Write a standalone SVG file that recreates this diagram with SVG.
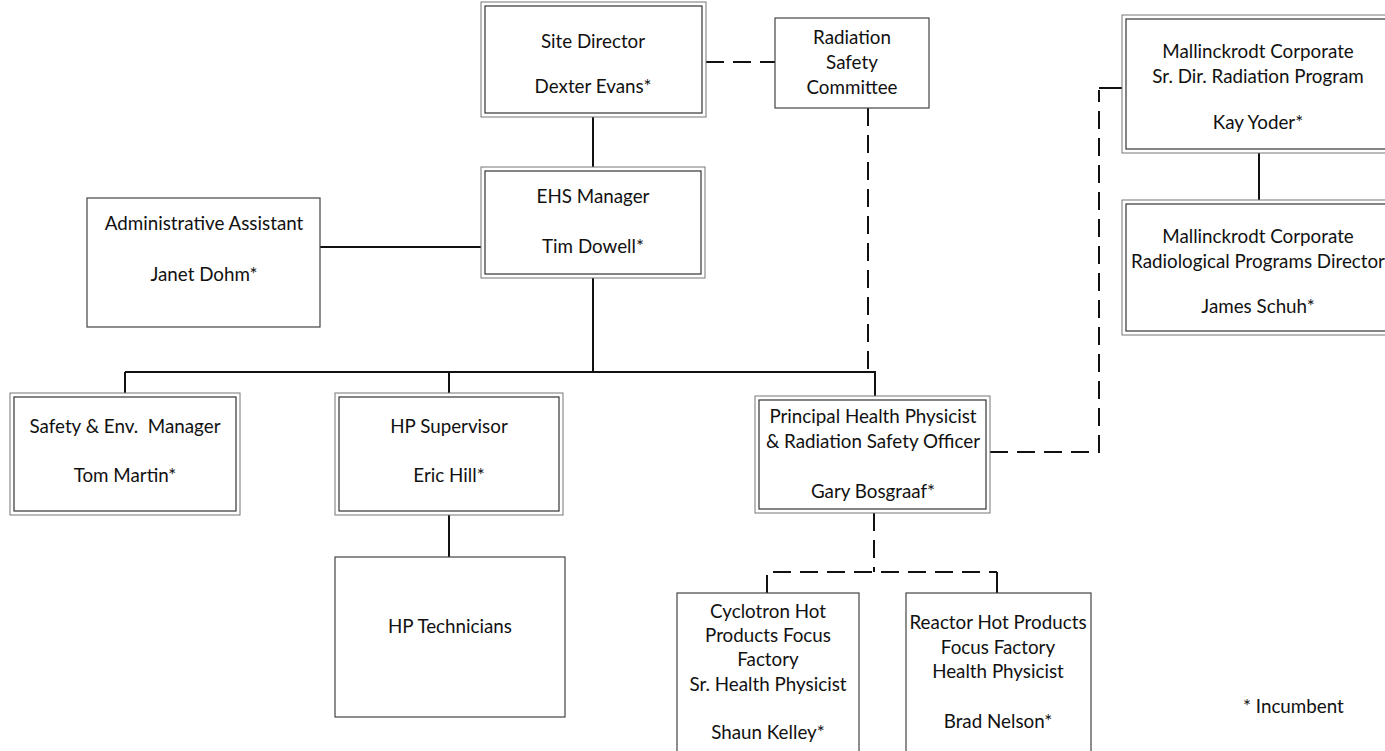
<svg xmlns="http://www.w3.org/2000/svg" width="1385" height="751" viewBox="0 0 1385 751">
<style>
  .o{fill:#fff;stroke:#777;stroke-width:1}
  .i{fill:none;stroke:#333;stroke-width:1.2}
  .s{fill:#fff;stroke:#444;stroke-width:1.2}
  .t{font-family:Lato,"Liberation Sans",sans-serif;font-size:18.8px;fill:#111;text-anchor:middle}
  .c{fill:none;stroke:#111;stroke-width:2}
  .d{fill:none;stroke:#111;stroke-width:2;stroke-dasharray:18 9}
</style>
<rect width="1385" height="751" fill="#fff"/>
<g id="connectors">
  <path class="d" d="M706 62 H775"/>
  <path class="c" d="M593 117 V167"/>
  <path class="d" d="M868 108 V372"/>
  <path class="c" d="M320 247 H481"/>
  <path class="c" d="M593 278 V372 M125 372 H876 M125 372 V393 M449 372 V393 M875 372 V396"/>
  <path class="c" d="M449 515 V557"/>
  <path class="d" d="M990 452 H1099 V90"/>
  <path class="c" d="M1099 88 H1122"/>
  <path class="c" d="M1259 153 V200"/>
  <path class="d" d="M874 513 V572 M767 593 V572 H997"/>
  <path class="c" d="M997 572 V593"/>
</g>
<g id="site-director">
  <rect class="o" x="481" y="2" width="225" height="115"/>
  <rect class="i" x="485" y="6" width="217" height="107"/>
  <text class="t" x="593" y="48">Site Director</text>
  <text class="t" x="593" y="93">Dexter Evans*</text>
</g>
<g id="rsc">
  <rect class="s" x="775" y="18" width="154" height="90"/>
  <text class="t" x="852" y="44">Radiation</text>
  <text class="t" x="852" y="69">Safety</text>
  <text class="t" x="852" y="94">Committee</text>
</g>
<g id="ehs-manager">
  <rect class="o" x="481" y="167" width="224" height="111"/>
  <rect class="i" x="485" y="171" width="216" height="103"/>
  <text class="t" x="593" y="203">EHS Manager</text>
  <text class="t" x="593" y="253">Tim Dowell*</text>
</g>
<g id="admin-assistant">
  <rect class="s" x="87" y="198" width="233" height="129"/>
  <text class="t" x="204" y="230">Administrative Assistant</text>
  <text class="t" x="204" y="281">Janet Dohm*</text>
</g>
<g id="kay-yoder">
  <rect class="o" x="1122" y="15" width="270" height="138"/>
  <rect class="i" x="1126" y="19" width="262" height="130"/>
  <text class="t" x="1258" y="58">Mallinckrodt Corporate</text>
  <text class="t" x="1258" y="83">Sr. Dir. Radiation Program</text>
  <text class="t" x="1258" y="129">Kay Yoder*</text>
</g>
<g id="james-schuh">
  <rect class="o" x="1122" y="200" width="270" height="135"/>
  <rect class="i" x="1126" y="204" width="262" height="127"/>
  <text class="t" x="1258" y="243">Mallinckrodt Corporate</text>
  <text class="t" x="1258" y="268">Radiological Programs Director</text>
  <text class="t" x="1258" y="313">James Schuh*</text>
</g>
<g id="safety-env-manager">
  <rect class="o" x="10" y="393" width="230" height="122"/>
  <rect class="i" x="14" y="397" width="222" height="114"/>
  <text class="t" x="125" y="433" xml:space="preserve">Safety &amp; Env.  Manager</text>
  <text class="t" x="125" y="482">Tom Martin*</text>
</g>
<g id="hp-supervisor">
  <rect class="o" x="335" y="393" width="228" height="122"/>
  <rect class="i" x="339" y="397" width="220" height="114"/>
  <text class="t" x="449" y="433">HP Supervisor</text>
  <text class="t" x="449" y="482">Eric Hill*</text>
</g>
<g id="hp-technicians">
  <rect class="s" x="335" y="557" width="230" height="160"/>
  <text class="t" x="450" y="633">HP Technicians</text>
</g>
<g id="principal-hp">
  <rect class="o" x="755" y="396" width="235" height="117"/>
  <rect class="i" x="759" y="400" width="227" height="109"/>
  <text class="t" x="873" y="423">Principal Health Physicist</text>
  <text class="t" x="873" y="448">&amp; Radiation Safety Officer</text>
  <text class="t" x="873" y="498">Gary Bosgraaf*</text>
</g>
<g id="cyclotron">
  <rect class="s" x="677" y="593" width="182" height="170"/>
  <text class="t" x="768" y="618">Cyclotron Hot</text>
  <text class="t" x="768" y="642">Products Focus</text>
  <text class="t" x="768" y="666">Factory</text>
  <text class="t" x="768" y="691">Sr. Health Physicist</text>
  <text class="t" x="768" y="739">Shaun Kelley*</text>
</g>
<g id="reactor">
  <rect class="s" x="906" y="593" width="185" height="170"/>
  <text class="t" x="998" y="629">Reactor Hot Products</text>
  <text class="t" x="998" y="654">Focus Factory</text>
  <text class="t" x="998" y="678">Health Physicist</text>
  <text class="t" x="998" y="728">Brad Nelson*</text>
</g>
<g id="legend">
  <text class="t" x="1243" y="713" style="text-anchor:start">* Incumbent</text>
</g>
</svg>
